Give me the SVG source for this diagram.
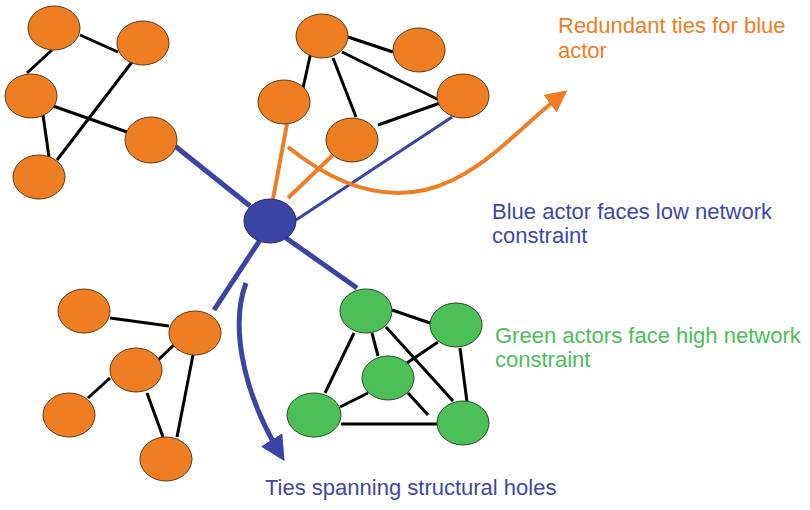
<svg xmlns="http://www.w3.org/2000/svg" width="810" height="510" viewBox="0 0 810 510">
<defs>
<style>
.o{fill:#EF7D22;stroke:#5a3a1a;stroke-width:1}
.g{fill:#4CC057;stroke:#1f4d22;stroke-width:1}
.b{fill:#3B44A4;stroke:#23286a;stroke-width:1}
.e{stroke:#000;stroke-width:3;fill:none;stroke-linecap:butt}
.bl{stroke:#3B44A4;fill:none}
.ol{stroke:#EF7D22;fill:none;stroke-width:4}
text{font-family:"Liberation Sans",Arial,sans-serif;font-size:22px}
</style>
<marker id="ao" viewBox="0 0 10 10" refX="8" refY="5" markerWidth="5.5" markerHeight="5.5" orient="auto" markerUnits="strokeWidth"><path d="M0,0 L10,5 L0,10 z" fill="#EF7D22"/></marker>
<marker id="ab" viewBox="0 0 10 10" refX="8" refY="5" markerWidth="5" markerHeight="5" orient="auto" markerUnits="strokeWidth"><path d="M0,0 L10,5 L0,10 z" fill="#3B44A4"/></marker>
</defs>
<rect width="810" height="510" fill="#fff"/>
<g id="connectors">
<line class="e" x1="52" y1="50" x2="27" y2="73"/>
<line class="e" x1="80" y1="35" x2="118" y2="52"/>
<line class="e" x1="53" y1="106" x2="127" y2="132"/>
<line class="e" x1="43" y1="115" x2="49" y2="157"/>
<line class="e" x1="132" y1="62" x2="57" y2="160"/>
<line class="e" x1="348" y1="37" x2="393" y2="52"/>
<line class="e" x1="311" y1="52" x2="303" y2="88"/>
<line class="e" x1="333" y1="58" x2="356" y2="117"/>
<line class="e" x1="342" y1="52" x2="443" y2="102"/>
<line class="e" x1="378" y1="125" x2="443" y2="102"/>
<line class="e" x1="110" y1="318" x2="169" y2="326"/>
<line class="e" x1="177" y1="342" x2="155" y2="363"/>
<line class="e" x1="110" y1="378" x2="88" y2="398"/>
<line class="e" x1="147" y1="393" x2="163" y2="437"/>
<line class="e" x1="193" y1="355" x2="177" y2="437"/>
<line class="e" x1="392" y1="310" x2="430" y2="323"/>
<line class="e" x1="354" y1="333" x2="325" y2="393"/>
<line class="e" x1="372" y1="333" x2="378" y2="356"/>
<line class="e" x1="386" y1="327" x2="453" y2="401"/>
<line class="e" x1="438" y1="342" x2="407" y2="363"/>
<line class="e" x1="460" y1="348" x2="467" y2="402"/>
<line class="e" x1="368" y1="393" x2="340" y2="407"/>
<line class="e" x1="408" y1="393" x2="428" y2="415"/>
<line class="e" x1="341" y1="424" x2="437" y2="424"/>
<line class="bl" stroke-width="5" x1="175" y1="146" x2="250" y2="206"/>
<line class="bl" stroke-width="3" x1="296" y1="220" x2="452" y2="117"/>
<line class="bl" stroke-width="5" x1="260" y1="240" x2="214" y2="310"/>
<line class="bl" stroke-width="5" x1="286" y1="238" x2="357" y2="288"/>
<line class="ol" x1="287" y1="124" x2="273" y2="199"/>
<line class="ol" x1="334" y1="154" x2="288" y2="198"/>
<path class="ol" d="M288,147 C335,185 380,200 425,190 C482,176 518,128 564,93" marker-end="url(#ao)"/>
<path class="bl" stroke-width="5" d="M246,283 C232,320 238,385 282,457" marker-end="url(#ab)"/>
</g>
<g id="n1"><ellipse class="o" cx="54" cy="28" rx="26" ry="22"/></g>
<g id="n2"><ellipse class="o" cx="143" cy="43" rx="26" ry="22"/></g>
<g id="n3"><ellipse class="o" cx="31" cy="96" rx="26" ry="22"/></g>
<g id="n4"><ellipse class="o" cx="151" cy="140" rx="26" ry="23"/></g>
<g id="n5"><ellipse class="o" cx="39" cy="177" rx="26" ry="22"/></g>
<g id="n6"><ellipse class="o" cx="322" cy="36" rx="26" ry="22"/></g>
<g id="n7"><ellipse class="o" cx="419" cy="50" rx="26" ry="22"/></g>
<g id="n8"><ellipse class="o" cx="284" cy="102" rx="26" ry="22"/></g>
<g id="n9"><ellipse class="o" cx="463" cy="96" rx="26" ry="22"/></g>
<g id="n10"><ellipse class="o" cx="352" cy="140" rx="26" ry="22"/></g>
<g id="blue"><ellipse class="b" cx="270" cy="221" rx="26" ry="22"/></g>
<g id="n11"><ellipse class="o" cx="84" cy="311" rx="26" ry="22"/></g>
<g id="n12"><ellipse class="o" cx="195" cy="333" rx="26" ry="22"/></g>
<g id="n13"><ellipse class="o" cx="136" cy="370" rx="26" ry="22"/></g>
<g id="n14"><ellipse class="o" cx="69" cy="415" rx="26" ry="22"/></g>
<g id="n15"><ellipse class="o" cx="166" cy="459" rx="26" ry="22"/></g>
<g id="g1"><ellipse class="g" cx="366" cy="311" rx="26" ry="22"/></g>
<g id="g2"><ellipse class="g" cx="456" cy="325" rx="26" ry="22"/></g>
<g id="g3"><ellipse class="g" cx="388" cy="378" rx="26" ry="22"/></g>
<g id="g4"><ellipse class="g" cx="314" cy="415" rx="27" ry="22"/></g>
<g id="g5"><ellipse class="g" cx="463" cy="423" rx="26" ry="22"/></g>
<g id="labels">
<text x="558" y="33" fill="#EF7D22">Redundant ties for blue</text>
<text x="558" y="58" fill="#EF7D22">actor</text>
<text x="492" y="219" fill="#4047A8">Blue actor faces low network</text>
<text x="492" y="243" fill="#4047A8">constraint</text>
<text x="495" y="343" fill="#4CC057">Green actors face high network</text>
<text x="495" y="367" fill="#4CC057">constraint</text>
<text x="265" y="495" fill="#4047A8">Ties spanning structural holes</text>
</g>
</svg>
